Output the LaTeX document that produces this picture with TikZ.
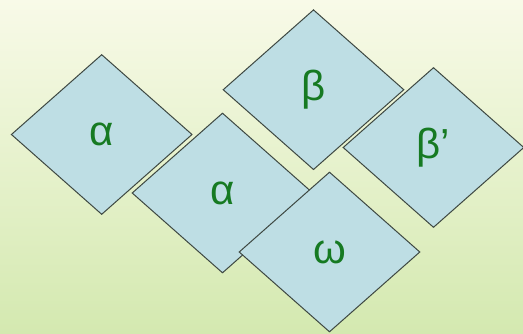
\documentclass[tikz,border=0pt]{standalone}
\usepackage{fontspec}
\setmainfont{Liberation Sans}
\usetikzlibrary{shapes.geometric}

\definecolor{bgtop}{RGB}{248,250,232}
\definecolor{bgmid}{RGB}{238,243,208}
\definecolor{bgbot}{RGB}{212,233,176}
\definecolor{tilefill}{RGB}{190,222,228}
\definecolor{tileline}{RGB}{62,72,66}
\definecolor{greek}{RGB}{22,122,34}

\begin{document}
\begin{tikzpicture}[
  x=1pt, y=-1pt,
  tile/.style={
    diamond, draw=tileline, fill=tilefill, line width=1pt,
    minimum width=181pt, minimum height=160pt, inner sep=0pt,
    text=greek, font=\fontsize{42}{42}\selectfont
  }
]
  % background
  \useasboundingbox (0,0) rectangle (523,333);
  \shade[top color=bgtop, middle color=bgmid, bottom color=bgbot]
    (0,0) rectangle (523,333);

  % tiles
  \node[tile] (alphaL) at (101.7,134.5) {α};
  \node[tile] (alphaM) at (222.5,193)   {α};
  \node[tile] (beta)   at (313.5,89.7)  {β};
  \node[tile] (betaP)  at (433.5,147.5) {β'};
  \node[tile] (omega)  at (329.5,252)   {ω};
\end{tikzpicture}
\end{document}
